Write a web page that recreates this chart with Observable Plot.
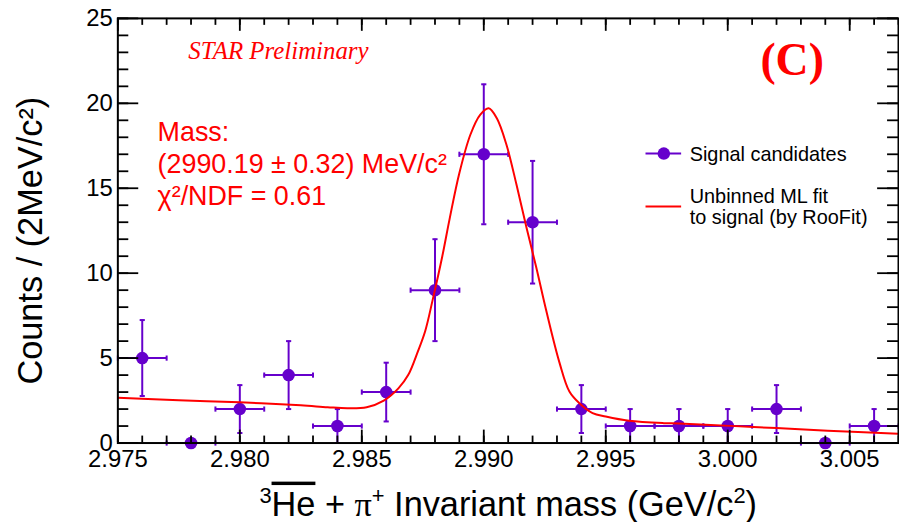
<!DOCTYPE html>
<html>
<head>
<meta charset="utf-8">
<script src="https://cdn.jsdelivr.net/npm/d3@7"></script>
<script src="https://cdn.jsdelivr.net/npm/@observablehq/plot@0.6"></script>
<style>
  html, body { margin: 0; padding: 0; background: #fff; overflow: hidden; }
  #chart svg { display: block; }
</style>
</head>
<body>
<div id="chart"></div>
<script>
// ---------- data ----------
const binCenter = [2.976, 2.978, 2.980, 2.982, 2.984, 2.986, 2.988, 2.990,
                   2.992, 2.994, 2.996, 2.998, 3.000, 3.002, 3.004, 3.006];
const counts    = [5, 0, 2, 4, 1, 3, 9, 17, 13, 2, 1, 1, 1, 2, 0, 1];
const errLow    = [2.77, 0, 0.59, 2.0, 0, 1.27, 6.0, 12.88, 9.39, 0.59, 0, 0, 0, 0.59, 0, 0];
const errHigh   = [7.24, 0, 3.41, 6.0, 2.0, 4.73, 12.0, 21.12, 16.61, 3.41, 2.0, 2.0, 2.0, 3.41, 0, 2.0];
const halfBin = 0.001;

// fit curve, points
const fitMass = [2.9750, 2.9775, 2.9800, 2.9825, 2.9836, 2.9844, 2.9852, 2.9859, 2.9865,
                 2.9869, 2.9873, 2.9876, 2.9879, 2.9883, 2.9886, 2.9890, 2.98945, 2.98985,
                 2.9902, 2.99053, 2.99093, 2.99134, 2.99175, 2.99215, 2.99256, 2.9931,
                 2.99351, 2.99392, 2.99446, 2.9950, 2.99595, 2.99738, 2.9980, 3.0001,
                 3.0020, 3.0041, 3.0070];
const fitCounts = [2.67, 2.52, 2.40, 2.22, 2.11, 2.05, 2.11, 2.50, 3.22,
                   4.00, 5.40, 6.60, 8.40, 11.0, 13.2, 15.9, 18.15, 19.32,
                   19.71, 19.13, 17.56, 15.22, 12.69, 10.35, 7.80, 4.75,
                   3.03, 2.34, 1.76, 1.56, 1.31, 1.17, 1.15, 1.01,
                   0.88, 0.72, 0.55];

// axis ticks
const xMajor = [2.975, 2.980, 2.985, 2.990, 2.995, 3.000, 3.005];
const xMinor = d3.range(2975, 3008).map(d => d / 1000);
const yMajor = [0, 5, 10, 15, 20, 25];
const yMinor = d3.range(0, 26);

// texts
const xTitle = "³He + π⁺ Invariant mass (GeV/c²)";
const yTitle = "Counts / (2MeV/c²)";
const starLabel = "STAR Preliminary";
const panelLabel = "(C)";
const fitInfo = "Mass:\n(2990.19 ± 0.32) MeV/c²\nχ²/NDF = 0.61";
const legendPoints = "Signal candidates";
const legendFit = "Unbinned ML fit\nto signal (by RooFit)";

// ---------- build tables ----------
const bins = binCenter.map((m, i) => ({m, c: counts[i], lo: errLow[i], hi: errHigh[i],
                                        x1: m - halfBin, x2: m + halfBin}));
const nonZero = bins.filter(d => d.c > 0);
const fit = fitMass.map((m, i) => ({m, v: fitCounts[i]}));

const purple = "#6600cc";
const red = "#ff0000";

const hCap = {draw(ctx, size) { const r = Math.sqrt(size / Math.PI); ctx.moveTo(-r, 0); ctx.lineTo(r, 0); }};
const vCap = {draw(ctx, size) { const r = Math.sqrt(size / Math.PI); ctx.moveTo(0, -r); ctx.lineTo(0, r); }};

const W = 904, H = 525, mL = 118, mR = 1, mT = 18, mB = 80;
const pw = W - mL - mR, ph = H - mT - mB;

const chart = Plot.plot({
  width: W, height: H,
  marginLeft: mL, marginRight: mR, marginTop: mT, marginBottom: mB,
  x: {domain: [2.975, 3.007]},
  y: {domain: [0, 25]},
  style: {fontFamily: "'Liberation Sans', Arial, Helvetica, sans-serif", background: "#fff", color: "#000"},
  marks: [
    // error bars
    Plot.ruleY(bins, {y: "c", x1: "x1", x2: "x2", stroke: purple, strokeWidth: 2}),
    Plot.dot(bins, {x: "x1", y: "c", symbol: vCap, r: 2.6, stroke: purple, strokeWidth: 2, fill: "none"}),
    Plot.dot(bins, {x: "x2", y: "c", symbol: vCap, r: 2.6, stroke: purple, strokeWidth: 2, fill: "none"}),
    Plot.ruleX(nonZero, {x: "m", y1: "lo", y2: "hi", stroke: purple, strokeWidth: 2}),
    Plot.dot(nonZero, {x: "m", y: "lo", symbol: hCap, r: 2.6, stroke: purple, strokeWidth: 2, fill: "none"}),
    Plot.dot(nonZero, {x: "m", y: "hi", symbol: hCap, r: 2.6, stroke: purple, strokeWidth: 2, fill: "none"}),
    Plot.dot(bins, {x: "m", y: "c", r: 6.3, fill: purple, stroke: null}),
    // fit
    Plot.line(fit, {x: "m", y: "v", stroke: red, strokeWidth: 2, curve: "catmull-rom", clip: true}),
    // frame and ticks (inward on all four sides)
    Plot.tickX(xMinor, {x: d => d, insetTop: ph - 7, stroke: "#000", strokeWidth: 1.8}),
    Plot.tickX(xMajor, {x: d => d, insetTop: ph - 13, stroke: "#000", strokeWidth: 1.8}),
    Plot.tickX(xMinor, {x: d => d, insetBottom: ph - 7, stroke: "#000", strokeWidth: 1.8}),
    Plot.tickX(xMajor, {x: d => d, insetBottom: ph - 13, stroke: "#000", strokeWidth: 1.8}),
    Plot.tickY(yMinor, {y: d => d, insetRight: pw - 11, stroke: "#000", strokeWidth: 1.8}),
    Plot.tickY(yMajor, {y: d => d, insetRight: pw - 21, stroke: "#000", strokeWidth: 1.8}),
    Plot.tickY(yMinor, {y: d => d, insetLeft: pw - 11, stroke: "#000", strokeWidth: 1.8}),
    Plot.tickY(yMajor, {y: d => d, insetLeft: pw - 21, stroke: "#000", strokeWidth: 1.8}),
    Plot.frame({stroke: "#000", strokeWidth: 2}),
    // tick labels
    Plot.axisX(xMajor, {anchor: "bottom", tickSize: 0, tickPadding: 7, tickFormat: d3.format(".3f"), fontSize: 24, label: null}),
    Plot.axisY(yMajor, {anchor: "left", tickSize: 0, tickPadding: 5, fontSize: 24, label: null}),
    // axis titles
    Plot.text([xTitle], {text: d => d, frameAnchor: "bottom", dy: 73, lineAnchor: "bottom", textAnchor: "middle", fontSize: 34.5}),
    Plot.text([yTitle], {text: d => d, frameAnchor: "left", dx: -76, dy: 10, rotate: -90, lineAnchor: "bottom", textAnchor: "middle", fontSize: 34.5}),
    // annotations
    Plot.text([{x: 2.97789, y: 22.6, t: starLabel}], {x: "x", y: "y", text: "t", textAnchor: "start", lineAnchor: "bottom",
      fontFamily: "'Liberation Serif', 'Times New Roman', serif", fontStyle: "italic", fontSize: 25, fill: red}),
    Plot.text([{x: 3.00264, y: 21.66, t: panelLabel}], {x: "x", y: "y", text: "t", textAnchor: "middle", lineAnchor: "bottom",
      fontFamily: "'Liberation Serif', 'Times New Roman', serif", fontWeight: "bold", fontSize: 46, fill: red}),
    Plot.text([{x: 2.97663, y: 14.0, t: fitInfo}], {x: "x", y: "y", text: "t", textAnchor: "start", lineAnchor: "bottom",
      lineHeight: 1.19, fontSize: 27, fill: red}),
    // legend
    Plot.ruleY([{y: 17.04, x1: 2.99665, x2: 2.99811}], {y: "y", x1: "x1", x2: "x2", stroke: purple, strokeWidth: 2}),
    Plot.dot([{x: 2.99738, y: 17.04}], {x: "x", y: "y", r: 6.3, fill: purple, stroke: null}),
    Plot.ruleY([{y: 13.93, x1: 2.99665, x2: 2.99811}], {y: "y", x1: "x1", x2: "x2", stroke: red, strokeWidth: 2}),
    Plot.text([{x: 2.99844, y: 16.63, t: legendPoints}], {x: "x", y: "y", text: "t", textAnchor: "start", lineAnchor: "bottom", fontSize: 20, fill: "#000"}),
    Plot.text([{x: 2.99844, y: 12.88, t: legendFit}], {x: "x", y: "y", text: "t", textAnchor: "start", lineAnchor: "bottom", lineHeight: 1.05, fontSize: 20, fill: "#000"})
  ]
});

document.getElementById("chart").appendChild(chart);

// rich text for the x-axis title: superscripts and anti-particle bar
d3.select(chart).selectAll("text").each(function () {
  if (this.textContent !== xTitle) return;
  const t = d3.select(this);
  t.text(null);
  const sup = 22, up = 13;
  t.append("tspan").attr("font-size", sup).attr("dy", -up).text("3");
  t.append("tspan").attr("dy", up).style("text-decoration", "overline").style("text-decoration-thickness", "3px").text("He");
  t.append("tspan").text(" + ");
  t.append("tspan").attr("font-family", "'Liberation Serif', serif").text("π");
  t.append("tspan").attr("font-size", sup).attr("dy", -up).text("+");
  t.append("tspan").attr("dy", up).text(" Invariant mass (GeV/c");
  t.append("tspan").attr("font-size", sup).attr("dy", -up).text("2");
  t.append("tspan").attr("dy", up).text(")");
});
</script>
</body>
</html>
